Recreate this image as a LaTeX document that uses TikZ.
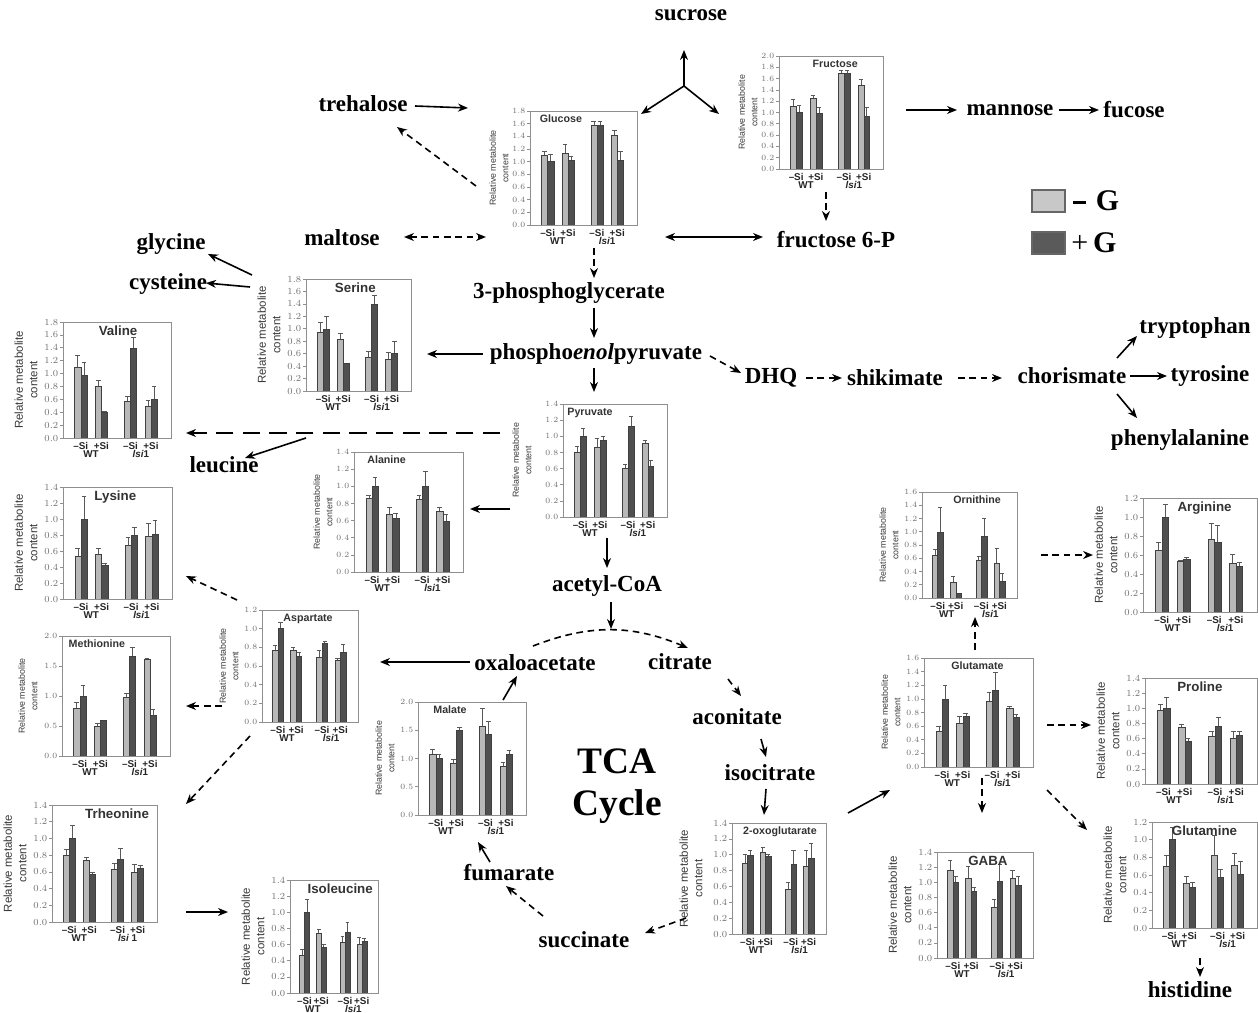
\documentclass[tikz,border=0pt]{standalone}
\usepackage{fontspec}
\setmainfont{Liberation Serif}
\newfontfamily\arial{Liberation Sans}
\usetikzlibrary{arrows.meta}
\definecolor{barlight}{HTML}{B8B8B8}
\definecolor{bardark}{HTML}{4F4F4F}
\definecolor{framegray}{HTML}{8F8F8F}
\definecolor{ticktext}{HTML}{707070}
\definecolor{labtext}{HTML}{3A3A3A}
\definecolor{leglight}{HTML}{C8C8C8}
\definecolor{legdark}{HTML}{5A5A5A}
\tikzset{
  mlab/.style={font=\fontsize{17.25}{20}\selectfont\bfseries, inner sep=1pt},
  arr/.style={line width=1.2pt, -{Stealth[length=7.5pt,width=6pt]}},
  arrtwo/.style={line width=1.2pt, {Stealth[length=7.5pt,width=6pt]}-{Stealth[length=7.5pt,width=6pt]}},
  darr/.style={arr, dash pattern=on 5pt off 3.5pt},
  darrtwo/.style={arrtwo, dash pattern=on 5pt off 3.5pt},
  chartframe/.style={draw=framegray, line width=0.6pt, inner sep=0pt},
  barbox/.style={draw=black!75, line width=0.3pt},
  errbar/.style={draw=black!65, line width=0.45pt},
  silab/.style={inner sep=0pt, text=black!85, font=\arial\bfseries\fontsize{7.4}{7.4}\selectfont},
}
\def\bcframe#1/#2/#3/#4!{\def\cxL{#1}\def\cyT{#2}\def\cxR{#3}\def\cyB{#4}}
\def\bctp#1/#2/#3/#4!{\def\tfrac{#1}\def\tanc{#2}\def\tsize{#3}\def\ylo{#4}}
% #1 name, #2 frame xL/yT/xR/yB, #3 ymax, #4 step, #5 values, #6 title,
% #7 titlefrac/anchor/titlesize/ylabel offset, #8 s|l, #9 mutant label
\newcommand\barchart[9]{%
  \bcframe#2!%
  \bctp#7!%
  \pgfmathsetmacro\cW{\cxR-\cxL}%
  \pgfmathsetmacro\cH{\cyB-\cyT}%
  \pgfmathsetmacro\cyM{(\cyT+\cyB)/2}%
  \def\cym{#3}%
  \if#8s\def\tickfs{6.2}\def\ylfs{6.6}\def\ylbs{9.5}%
  \else\def\tickfs{7.2}\def\ylfs{8.6}\def\ylbs{11}\fi
  \pgfmathtruncatemacro\nt{round(#3/#4)}%
  \foreach \k in {0,...,\nt}{%
    \pgfmathsetmacro\tv{\k*#4}%
    \pgfmathsetmacro\ty{\cyB-\tv/\cym*\cH}%
    \draw[framegray, line width=0.5pt] (\cxL,\ty) -- ++(-3,0);
    \node[anchor=east, inner sep=0pt, text=ticktext, font=\arial\fontsize{\tickfs}{\tickfs}\selectfont] at (\cxL-4.5,\ty) {\pgfmathprintnumber[fixed,fixed zerofill,precision=1]{\tv}};
  }%
  \node[rotate=90, align=center, inner sep=0pt, text=labtext, font=\arial\fontsize{\ylfs}{\ylbs}\selectfont] at (\cxL-\ylo,\cyM) {Relative metabolite\\content};
  \foreach \bv/\be [count=\i from 0] in {#5}{%
    \pgfmathtruncatemacro\gi{int(\i/2)}%
    \ifcase\gi \def\gc{0.165}\or\def\gc{0.355}\or\def\gc{0.625}\or\def\gc{0.815}\fi
    \pgfmathtruncatemacro\bside{mod(\i,2)}%
    \pgfmathsetmacro\bxa{\cxL+\cW*(\gc-0.057*(1-\bside))}%
    \pgfmathsetmacro\bxb{\bxa+\cW*0.057}%
    \pgfmathsetmacro\bmid{(\bxa+\bxb)/2}%
    \pgfmathsetmacro\byt{\cyB-\bv/\cym*\cH}%
    \pgfmathsetmacro\bye{\cyB-\be/\cym*\cH}%
    \pgfmathsetmacro\bcap{\cW*0.022}%
    \ifnum\bside=0 \def\bfill{barlight}\else\def\bfill{bardark}\fi
    \draw[errbar] (\bmid,\byt) -- (\bmid,\bye) (\bmid-\bcap,\bye) -- (\bmid+\bcap,\bye);
    \filldraw[barbox, fill=\bfill] (\bxa,\cyB) rectangle (\bxb,\byt);
  }%
  \node[chartframe, anchor=north west, minimum width=\cW*0.75pt, minimum height=\cH*0.75pt] (#1) at (\cxL,\cyT) {};
  \node[anchor=\tanc, inner sep=0pt, text=black!80, font=\arial\bfseries\fontsize{\tsize}{\tsize}\selectfont] at (\cxL+\tfrac*\cW,\cyT+3.5) {#6};
  \node[silab] at (\cxL+0.165*\cW,\cyB+7.5) {–Si};
  \node[silab] at (\cxL+0.355*\cW,\cyB+7.5) {+Si};
  \node[silab] at (\cxL+0.625*\cW,\cyB+7.5) {–Si};
  \node[silab] at (\cxL+0.815*\cW,\cyB+7.5) {+Si};
  \node[silab] at (\cxL+0.26*\cW,\cyB+16) {WT};
  \node[silab] at (\cxL+0.72*\cW,\cyB+16) {#9};
}
\newcommand\conn[4]{\coordinate (#1a) at (#3); \coordinate (#1b) at (#4); \draw[#2] (#1a) -- (#1b);}
\newcommand\lsi{{\itshape lsi}1}
\begin{document}
\begin{tikzpicture}[x=0.75pt,y=-0.75pt]
\useasboundingbox (0,0) rectangle (1258,1013);
\fill[white] (0,0) rectangle (1258,1013);

% ---------------- charts ----------------
\barchart{glc}{530/111/637/225}{1.8}{0.2}{1.1/1.17,1.0/1.12,1.13/1.28,1.02/1.09,1.57/1.63,1.58/1.63,1.42/1.49,1.02/1.16}{Glucose}{0.09/north west/8/31}{s}{\lsi}
\barchart{fru}{779/56/883/169}{2.0}{0.2}{1.12/1.23,1.0/1.13,1.25/1.31,0.98/1.09,1.69/1.75,1.69/1.74,1.48/1.58,0.93/1.09}{Fructose}{0.54/north/8/31}{s}{\lsi}
\barchart{val}{63/322/171/438}{1.8}{0.2}{1.1/1.29,0.97/1.17,0.8/0.89,0.4/0.41,0.57/0.65,1.4/1.56,0.5/0.59,0.6/0.8}{Valine}{0.51/north/10/37}{l}{\lsi}
\barchart{ser}{306/279/411/391}{1.8}{0.2}{0.94/1.1,1.0/1.2,0.84/0.92,0.44/0.44,0.54/0.64,1.4/1.54,0.51/0.62,0.6/0.8}{Serine}{0.47/north/10/37}{l}{\lsi}
\barchart{lys}{63/487/172/599}{1.4}{0.2}{0.54/0.64,1.0/1.29,0.56/0.63,0.42/0.45,0.67/0.77,0.8/0.9,0.78/0.95,0.81/0.98}{Lysine}{0.48/north/10/37}{l}{\lsi}
\barchart{met}{62/636/170/756}{2.0}{0.5}{0.79/0.9,1.0/1.18,0.49/0.54,0.6/0.6,0.98/1.04,1.67/1.82,1.62/1.63,0.68/0.78}{Methionine}{0.06/north west/8/34}{s}{\lsi}
\barchart{ala}{354/452/463/572}{1.4}{0.2}{0.86/0.89,1.0/1.1,0.68/0.75,0.63/0.69,0.85/0.9,1.0/1.17,0.71/0.75,0.59/0.67}{Alanine}{0.12/north west/8/31}{s}{\lsi}
\barchart{pyr}{563/404/667/517}{1.4}{0.2}{0.8/0.87,1.0/1.1,0.87/0.97,0.95/1.0,0.6/0.65,1.12/1.25,0.92/0.95,0.63/0.7}{Pyruvate}{0.04/north west/8/41}{s}{\lsi}
\barchart{asp}{262/610/358/722}{1.2}{0.2}{0.77/0.82,1.0/1.07,0.77/0.8,0.71/0.75,0.69/0.77,0.84/0.87,0.66/0.68,0.75/0.83}{Aspartate}{0.48/north/8/33}{s}{\lsi}
\barchart{mal}{418/702/526/815}{2.0}{0.5}{1.07/1.17,1.0/1.08,0.91/0.99,1.5/1.55,1.57/1.88,1.43/1.66,0.86/0.94,1.07/1.15}{Malate}{0.14/north west/8/33}{s}{\lsi}
\barchart{thr}{52/805/157/922}{1.4}{0.2}{0.8/0.87,1.0/1.16,0.74/0.78,0.57/0.6,0.63/0.7,0.75/0.88,0.6/0.69,0.64/0.68}{Trheonine}{0.62/north/10/37}{l}{{\itshape lsi} 1}
\barchart{ile}{290/880/378/993}{1.4}{0.2}{0.47/0.54,1.0/1.16,0.74/0.79,0.57/0.6,0.63/0.7,0.75/0.88,0.6/0.69,0.64/0.68}{Isoleucine}{0.57/north/10/37}{l}{\lsi}
\barchart{oxg}{732/823/826/934}{1.4}{0.2}{0.89/1.0,1.0/1.05,1.03/1.1,0.98/1.0,0.57/0.65,0.88/1.05,0.85/1.05,0.95/1.15}{2-oxoglutarate}{0.51/north/8/41}{l}{\lsi}
\barchart{orn}{922/492/1017/598}{1.6}{0.2}{0.65/0.74,1.0/1.37,0.24/0.33,0.07/0.07,0.57/0.63,0.94/1.2,0.53/0.75,0.26/0.37}{Ornithine}{0.58/north/8/33}{s}{\lsi}
\barchart{arg}{1143/498/1257/612}{1.2}{0.2}{0.65/0.73,1.0/1.13,0.53/0.54,0.56/0.58,0.77/0.93,0.74/0.91,0.51/0.61,0.48/0.52}{Arginine}{0.54/north/10/37}{l}{\lsi}
\barchart{glu}{924/658/1033/767}{1.6}{0.2}{0.52/0.6,1.0/1.2,0.64/0.74,0.74/0.79,0.96/1.1,1.13/1.39,0.87/0.89,0.73/0.78}{Glutamate}{0.49/north/8/33}{s}{\lsi}
\barchart{pro}{1145/678/1257/784}{1.4}{0.2}{0.98/1.05,1.0/1.15,0.75/0.79,0.57/0.61,0.63/0.7,0.76/0.88,0.61/0.69,0.64/0.69}{Proline}{0.49/north/10/37}{l}{\lsi}
\barchart{gaba}{937/852/1033/958}{1.4}{0.2}{1.16/1.29,1.0/1.08,1.06/1.21,0.88/0.93,0.67/0.77,1.02/1.24,1.06/1.16,0.96/1.08}{GABA}{0.53/north/10/37}{l}{\lsi}
\barchart{gln}{1152/822/1257/928}{1.2}{0.2}{0.7/0.82,1.0/1.14,0.51/0.59,0.46/0.52,0.82/1.05,0.58/0.66,0.71/0.85,0.61/0.76}{Glutamine}{0.5/north/10/37}{l}{\lsi}

% ---------------- metabolite labels ----------------
\node[mlab] (sucrose) at (691,15) {sucrose};
\node[mlab] (treh) at (363,104) {trehalose};
\node[mlab] (mannose) at (1010,110) {mannose};
\node[mlab] (fucose) at (1134,110) {fucose};
\node[mlab] (glycine) at (171,244) {glycine};
\node[mlab] (maltose) at (342,238) {maltose};
\node[mlab] (f6p) at (836,240) {fructose 6-P};
\node[mlab] (cysteine) at (168,284) {cysteine};
\node[mlab] (pga) at (569,293) {3-phosphoglycerate};
\node[mlab] (pep) at (596,354) {phospho\textit{enol}pyruvate};
\node[mlab] (dhq) at (771,378) {DHQ};
\node[mlab] (shik) at (895,378) {shikimate};
\node[mlab] (chor) at (1072,376) {chorismate};
\node[mlab] (trp) at (1195,328) {tryptophan};
\node[mlab] (tyr) at (1210,376) {tyrosine};
\node[mlab] (phe) at (1180,440) {phenylalanine};
\node[mlab] (leu) at (224,465) {leucine};
\node[mlab] (acoa) at (607,586) {acetyl-CoA};
\node[mlab] (oaa) at (535,663) {oxaloacetate};
\node[mlab] (cit) at (680,662) {citrate};
\node[mlab] (acon) at (737,717) {aconitate};
\node[mlab] (icit) at (770,773) {isocitrate};
\node[mlab] (fum) at (509,873) {fumarate};
\node[mlab] (succ) at (584,940) {succinate};
\node[mlab] (his) at (1190,990) {histidine};
\node[font=\fontsize{28}{31.5}\selectfont\bfseries, align=center, inner sep=0pt] (tca) at (617,786) {TCA\\Cycle};

% ---------------- legend ----------------
\node[draw=black!60, fill=leglight, line width=0.8pt, minimum width=24.75pt, minimum height=16.5pt, inner sep=0pt] (legl) at (1048.5,201) {};
\node[draw=black!60, fill=legdark, line width=0.8pt, minimum width=24.75pt, minimum height=16.5pt, inner sep=0pt] (legd) at (1048.5,243) {};
\node[anchor=west, inner sep=0pt, font=\fontsize{22.5}{24}\selectfont\bfseries] (legmt) at (1073,201) {\rule[0.22em]{0.42em}{0.12em}\,\,G};
\node[anchor=west, inner sep=0pt, font=\fontsize{22.5}{24}\selectfont] (legpt) at (1071,243) {+\,\textbf{G}};

% ---------------- connectors ----------------
\conn{ctg}{arr}{415,106}{468,108}
\conn{gtt}{darr}{476,186}{397,127}
\coordinate (sy) at (684,86);
\coordinate (syu) at (684,50);
\coordinate (syl) at (641,114);
\coordinate (syr) at (719,114);
\draw[arr] (sy) -- (syu);
\draw[arr] (sy) -- (syl);
\draw[arr] (sy) -- (syr);
\conn{ftm}{arr}{906,110}{957,110}
\conn{mtf}{arr}{1059,110}{1099,110}
\conn{mag}{darrtwo}{404,237}{486,237}
\conn{gf6}{arrtwo}{665,237}{763,237}
\conn{ff6}{darr}{826,192}{826,221}
\conn{gpg}{darr}{594,248}{594,278}
\conn{sgl}{arr}{252,275}{208,254}
\conn{scy}{arr}{250,287}{206,283}
\conn{pgp}{arr}{594,308}{594,338}
\conn{pse}{arr}{483,354}{427,354}
\conn{ppy}{arr}{594,368}{594,392}
\conn{pdh}{darr}{710,356}{741,373}
\conn{dsh}{darr}{806,378}{842,378}
\conn{sch}{darr}{958,378}{1002,378}
\conn{ctr}{arr}{1117,358}{1137,336}
\conn{cty}{arr}{1130,376}{1167,376}
\conn{cph}{arr}{1117,394}{1137,418}
\coordinate (pvs) at (500,433);
\coordinate (pve) at (186,433);
\draw[arr, dash pattern=on 13pt off 7pt] (pvs) -- (pve);
\coordinate (leua) at (306,438);
\coordinate (leub) at (245,458);
\draw[arr] (leua) -- (leub);
\conn{pal}{arr}{510,509}{470,509}
\conn{pac}{arr}{607,538}{607,568}
\conn{aca}{arr}{611,602}{611,629}
\coordinate (arcs) at (533,646);
\coordinate (arce) at (688,648);
\draw[darr] (arcs) to[bend left=22] (arce);
\conn{cia}{darr}{728,679}{741,696}
\conn{aci}{arr}{761,739}{766,757}
\conn{iox}{arr}{766,789}{764,815}
\conn{oxgl}{arr}{848,813}{890,790}
\conn{oxsu}{darr}{686,918}{645,933}
\conn{sufu}{darr}{543,916}{506,886}
\conn{fuma}{arr}{490,862}{478,842}
\conn{maoa}{arr}{503,700}{517,676}
\conn{oaas}{arr}{470,662}{380,662}
\conn{asly}{darr}{237,600}{186,576}
\conn{asme}{darr}{222,706}{186,706}
\conn{asth}{darr}{250,736}{186,804}
\conn{thil}{arr}{186,912}{228,912}
\conn{glor}{darr}{975,650}{975,617}
\conn{orar}{darr}{1041,555}{1093,555}
\conn{glpr}{darr}{1047,725}{1091,725}
\conn{glga}{darr}{982,778}{982,813}
\conn{glgn}{darr}{1047,790}{1087,830}
\conn{gnhi}{darr}{1200,958}{1200,977}
\end{tikzpicture}
\end{document}
